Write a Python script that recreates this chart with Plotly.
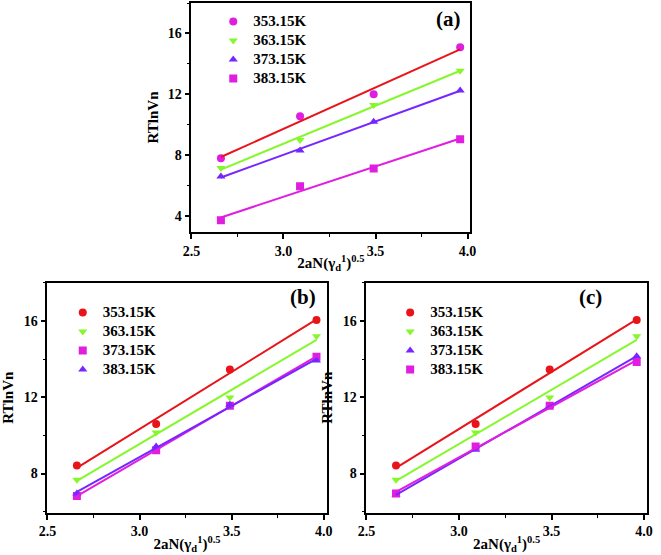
import numpy as np
import plotly.graph_objects as go

# ---------------- data ----------------
x_vals = [2.66, 3.09, 3.49, 3.96]
temps = ["353.15K", "363.15K", "373.15K", "383.15K"]

# panel (a)
a_353 = [7.8, 10.55, 12.0, 15.1]
a_363 = [7.15, 9.0, 11.3, 13.55]
a_373 = [6.6, 8.3, 10.2, 12.25]
a_383 = [3.72, 5.95, 7.12, 9.05]

# panel (b)
b_353 = [8.42, 10.6, 13.45, 16.05]
b_363 = [7.68, 10.15, 11.98, 15.2]
b_373 = [6.82, 9.22, 11.55, 14.12]
b_383 = [6.95, 9.42, 11.6, 13.92]

# panel (c)
c_353 = [8.42, 10.6, 13.45, 16.05]
c_363 = [7.68, 10.15, 11.98, 15.2]
c_373 = [6.9, 9.25, 11.55, 14.15]
c_383 = [6.95, 9.42, 11.55, 13.85]

x_ticks = [2.5, 3.0, 3.5, 4.0]

# ---------------- styles ----------------
RED = "#e8141a"
GREEN = "#86f72c"
PURPLE = "#7626ff"
MAGENTA = "#e01ee0"
FONT = "Liberation Serif"

fig = go.Figure()

panels = [
    ("", "legend", [
        (temps[0], a_353, MAGENTA, "circle", RED),
        (temps[1], a_363, GREEN, "triangle-down", GREEN),
        (temps[2], a_373, PURPLE, "triangle-up", PURPLE),
        (temps[3], a_383, MAGENTA, "square", MAGENTA),
    ]),
    ("2", "legend2", [
        (temps[0], b_353, RED, "circle", RED),
        (temps[1], b_363, GREEN, "triangle-down", GREEN),
        (temps[2], b_373, MAGENTA, "square", MAGENTA),
        (temps[3], b_383, PURPLE, "triangle-up", PURPLE),
    ]),
    ("3", "legend3", [
        (temps[0], c_353, RED, "circle", RED),
        (temps[1], c_363, GREEN, "triangle-down", GREEN),
        (temps[2], c_373, PURPLE, "triangle-up", PURPLE),
        (temps[3], c_383, MAGENTA, "square", MAGENTA),
    ]),
]

for suf, leg, series in panels:
    xa = "x" + suf
    ya = "y" + suf
    for name, ys, mcol, sym, lcol in series:
        fig.add_trace(go.Scatter(
            x=x_vals, y=ys, mode="markers",
            name="<span style='font-size:15px;font-family:Liberation Serif'>" + name + "</span>",
            marker=dict(color=mcol, symbol=sym, size=8),
            xaxis=xa, yaxis=ya, legend=leg, showlegend=True,
        ))
    for name, ys, mcol, sym, lcol in series:
        k, b = np.polyfit(x_vals, ys, 1)
        xf = [x_vals[0], x_vals[-1]]
        fig.add_trace(go.Scatter(
            x=xf, y=[k * xf[0] + b, k * xf[1] + b], mode="lines",
            line=dict(color=lcol, width=2),
            xaxis=xa, yaxis=ya, showlegend=False, hoverinfo="skip",
        ))

W, H = 661, 555

def px_x(p):
    return p / W

def px_y(p):
    return 1 - p / H

xtitle = "2aN(γ<sub>d</sub><sup>1</sup>)<sup>0.5</sup>"

def xaxis(dom, anchor):
    return dict(
        domain=dom, anchor=anchor, range=[2.5, 4.015],
        tickvals=x_ticks, tickformat=".1f",
        ticks="outside", ticklen=5, tickwidth=1.5, tickcolor="black",
        minor=dict(dtick=0.25, tick0=2.5, ticks="outside", ticklen=3, tickwidth=1.2, tickcolor="black"),
        showline=True, linecolor="black", linewidth=1.8, mirror=True,
        showgrid=False, zeroline=False,
        tickfont=dict(family=FONT, size=14, color="black", weight="bold"),
        title=dict(text=xtitle, standoff=0,
                   font=dict(family=FONT, size=15, color="black", weight="bold")),
    )

def yaxis(dom, anchor, rng):
    return dict(
        domain=dom, anchor=anchor, range=rng,
        dtick=4, tick0=0,
        ticks="outside", ticklen=5, tickwidth=1.5, tickcolor="black",
        minor=dict(dtick=2, tick0=0, ticks="outside", ticklen=3, tickwidth=1.2, tickcolor="black"),
        showline=True, linecolor="black", linewidth=1.8, mirror=True,
        showgrid=False, zeroline=False,
        tickfont=dict(family=FONT, size=14, color="black", weight="bold"),
        title=dict(text="RTlnVn", standoff=6,
                   font=dict(family=FONT, size=15, color="black", weight="bold")),
    )

a_x = [px_x(186.7), px_x(472)]
a_y = [px_y(232), px_y(3)]
b_x = [px_x(39.3), px_x(325)]
c_x = [px_x(365.7), px_x(652.7)]
bc_y = [px_y(512.7), px_y(282.7)]

leg_font = dict(family=FONT, size=12, color="black", weight="bold")

def legend(xp, yp):
    return dict(x=px_x(xp), y=px_y(yp), xanchor="left", yanchor="top",
                bgcolor="rgba(0,0,0,0)", borderwidth=0, font=leg_font,
                itemsizing="trace", tracegroupgap=0)

label_font = dict(family=FONT, size=21, color="black", weight="bold")

fig.update_layout(
    width=W, height=H,
    margin=dict(l=0, r=0, t=0, b=0),
    paper_bgcolor="white", plot_bgcolor="white",
    xaxis=xaxis(a_x, "y"), yaxis=yaxis(a_y, "x", [2.95, 18]),
    xaxis2=xaxis(b_x, "y2"), yaxis2=yaxis(bc_y, "x2", [5.95, 18]),
    xaxis3=xaxis(c_x, "y3"), yaxis3=yaxis(bc_y, "x3", [5.95, 18]),
    legend=legend(209, 7),
    legend2=legend(55, 298),
    legend3=legend(390, 298),
    showlegend=True,
    annotations=[
        dict(text="(a)", x=px_x(450), y=px_y(19), xref="paper", yref="paper",
             xanchor="center", yanchor="middle", showarrow=False, font=label_font),
        dict(text="(b)", x=px_x(301), y=px_y(297), xref="paper", yref="paper",
             xanchor="center", yanchor="middle", showarrow=False, font=label_font),
        dict(text="(c)", x=px_x(595), y=px_y(297), xref="paper", yref="paper",
             xanchor="center", yanchor="middle", showarrow=False, font=label_font),
    ],
)

fig.write_html("out.html")
